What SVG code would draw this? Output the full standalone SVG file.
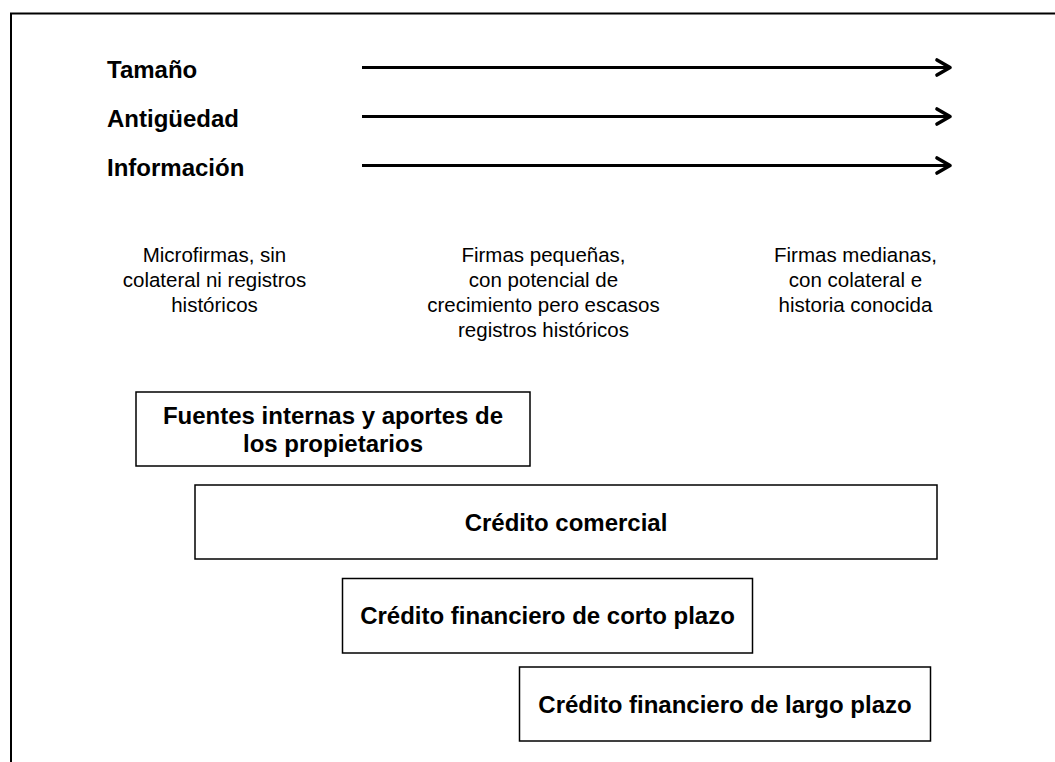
<svg xmlns="http://www.w3.org/2000/svg" width="1055" height="762" viewBox="0 0 1055 762">
<style>
.lbl{font-family:"Liberation Sans",Arial,sans-serif;font-size:24px;font-weight:bold;fill:#000}
.desc{font-family:"Liberation Sans",Arial,sans-serif;font-size:20.5px;fill:#000;text-anchor:middle}
.box{fill:#fff;stroke:#000;stroke-width:1.5}
.btxt{font-family:"Liberation Sans",Arial,sans-serif;font-size:24px;font-weight:bold;fill:#000;text-anchor:middle}
.arr{stroke:#000;stroke-width:3.2;fill:none;marker-end:url(#head)}
</style>
<defs>
<marker id="head" markerUnits="userSpaceOnUse" markerWidth="20" markerHeight="20" refX="13" refY="7.5" orient="auto" overflow="visible">
<path d="M0,0 L13,7.5 L0,15" fill="none" stroke="#000" stroke-width="3.6" stroke-linejoin="round" stroke-linecap="round"/>
</marker>
</defs>
<rect width="1055" height="762" fill="#fff"/>
<path d="M11,762 L11,13.5 L1055,13.5" fill="none" stroke="#000" stroke-width="2"/>

<g id="connectors">
<line class="arr" x1="362" y1="67.5" x2="950" y2="67.5"/>
<line class="arr" x1="362" y1="116.5" x2="950" y2="116.5"/>
<line class="arr" x1="362" y1="165.5" x2="950" y2="165.5"/>
</g>

<g id="lbl-tamano"><text class="lbl" x="107" y="78">Tamaño</text></g>
<g id="lbl-antiguedad"><text class="lbl" x="107" y="127">Antigüedad</text></g>
<g id="lbl-informacion"><text class="lbl" x="107" y="176">Información</text></g>

<g id="desc-micro">
<text class="desc" x="214.5" y="262">Microfirmas, sin</text>
<text class="desc" x="214.5" y="287">colateral ni registros</text>
<text class="desc" x="214.5" y="312">históricos</text>
</g>
<g id="desc-pequenas">
<text class="desc" x="543.5" y="262">Firmas pequeñas,</text>
<text class="desc" x="543.5" y="287">con potencial de</text>
<text class="desc" x="543.5" y="312">crecimiento pero escasos</text>
<text class="desc" x="543.5" y="337">registros históricos</text>
</g>
<g id="desc-medianas">
<text class="desc" x="855.5" y="262">Firmas medianas,</text>
<text class="desc" x="855.5" y="287">con colateral e</text>
<text class="desc" x="855.5" y="312">historia conocida</text>
</g>

<g id="box-fuentes">
<rect class="box" x="136" y="392" width="394" height="74"/>
<text class="btxt" x="333" y="424">Fuentes internas y aportes de</text>
<text class="btxt" x="333" y="452">los propietarios</text>
</g>
<g id="box-comercial">
<rect class="box" x="195" y="485" width="742" height="74"/>
<text class="btxt" x="566" y="531">Crédito comercial</text>
</g>
<g id="box-corto">
<rect class="box" x="342.5" y="578.5" width="410" height="74.5"/>
<text class="btxt" x="547.5" y="624">Crédito financiero de corto plazo</text>
</g>
<g id="box-largo">
<rect class="box" x="519.5" y="667" width="411" height="74"/>
<text class="btxt" x="725" y="713">Crédito financiero de largo plazo</text>
</g>
</svg>
